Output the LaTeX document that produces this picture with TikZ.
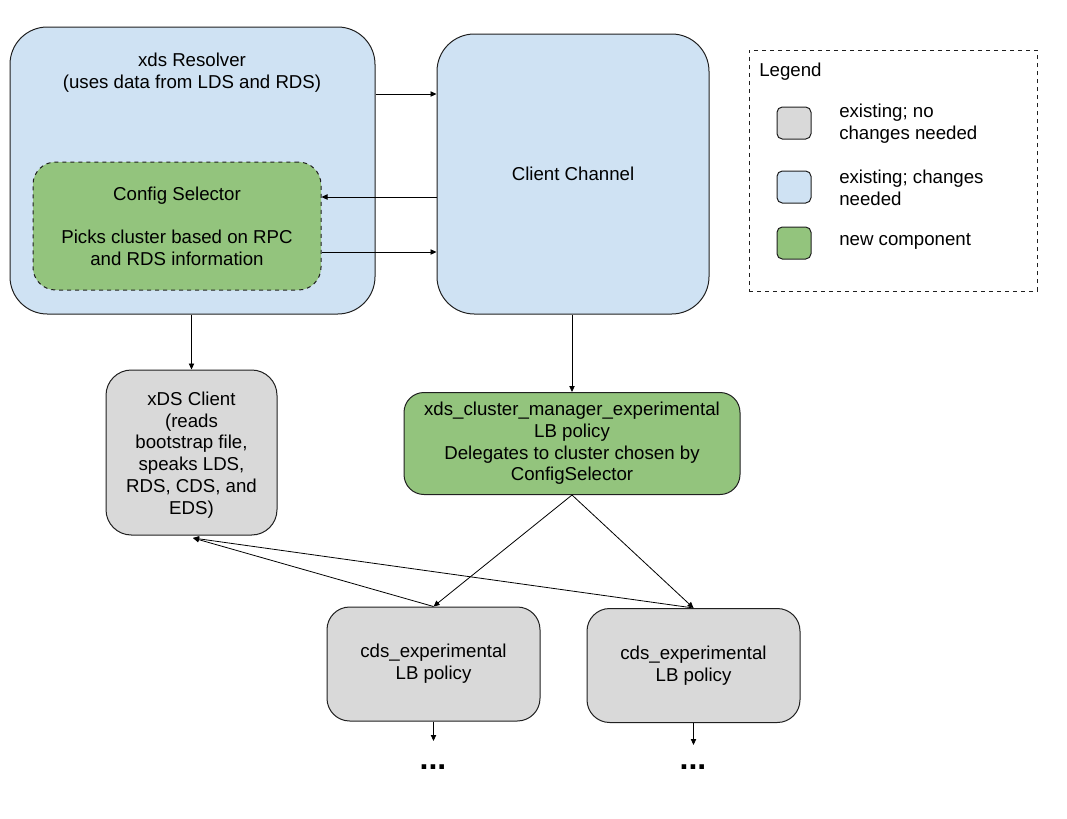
\documentclass[tikz,border=0pt]{standalone}
\usepackage{fontspec}
\setmainfont{Liberation Sans}
\usetikzlibrary{arrows.meta}
\definecolor{cblue}{HTML}{CFE2F3}
\definecolor{cgreen}{HTML}{93C47D}
\definecolor{cgray}{HTML}{D9D9D9}
\definecolor{cline}{HTML}{202020}
\tikzset{
  base/.style={draw=cline, line width=0.75pt, rectangle, inner sep=0pt, align=center,
    font=\fontsize{14}{16.3}\selectfont},
  bluebox/.style={base, fill=cblue},
  greenbox/.style={base, fill=cgreen},
  graybox/.style={base, fill=cgray},
  txt/.style={inner sep=0pt, align=center, font=\fontsize{14}{16.3}\selectfont},
  ltxt/.style={inner sep=0pt, align=left, anchor=west, font=\fontsize{14}{16.3}\selectfont},
  arr/.style={draw=black, line width=0.6pt, -{Triangle[length=4.5pt,width=4pt]}},
  dotsty/.style={inner sep=0pt, font=\fontsize{24}{24}\selectfont\bfseries},
}
\begin{document}
\begin{tikzpicture}[x=0.75pt,y=-0.75pt]
\useasboundingbox (0,0) rectangle (1067,818);

% xds Resolver
\node[bluebox, rounded corners=28pt, minimum width=273.75pt, minimum height=215.25pt] (res) at (192.5,170.5) {};
\node[txt] (restext) at (192,73) {xds Resolver\\(uses data from LDS and RDS)};
\node[greenbox, dashed, rounded corners=17pt, minimum width=216pt, minimum height=96pt] (cs) at (177,226)
  {Config Selector\\ \\Picks cluster based on RPC\\and RDS information};

% Client Channel
\node[bluebox, rounded corners=28pt, minimum width=204pt, minimum height=210pt] (cc) at (573,174) {Client Channel};

% Legend
\node[draw=cline, line width=0.75pt, dashed, rectangle, inner sep=0pt, minimum width=216pt, minimum height=180.75pt] (leg) at (893,170.5) {};
\node[ltxt] (legtitle) at (759,72) {Legend};
\node[graybox, rounded corners=4pt, minimum width=25.5pt, minimum height=24pt] (sw1) at (794,123) {};
\node[bluebox, rounded corners=4pt, minimum width=25.5pt, minimum height=24pt] (sw2) at (794,187) {};
\node[greenbox, rounded corners=4pt, minimum width=25.5pt, minimum height=24pt] (sw3) at (794,243) {};
\node[ltxt] (lt1) at (839,123.5) {existing; no\\changes needed};
\node[ltxt] (lt2) at (839,187.5) {existing; changes\\needed};
\node[ltxt] (lt3) at (839,241) {new component};

% xDS Client
\node[graybox, rounded corners=19pt, minimum width=128.25pt, minimum height=123.75pt] (xc) at (191.5,452.5) {};
\node[txt] (xctext) at (191.5,455) {xDS Client\\(reads\\bootstrap file,\\speaks LDS,\\RDS, CDS, and\\EDS)};

% cluster manager
\node[greenbox, rounded corners=15pt, minimum width=252pt, minimum height=76.5pt] (cm) at (572,443.5)
  {xds\_cluster\_manager\_experimental\\LB policy\\Delegates to cluster chosen by\\ConfigSelector};

% cds policies
\node[graybox, rounded corners=17pt, minimum width=159.75pt, minimum height=85.5pt] (cds1) at (433.5,664) {cds\_experimental\\LB policy};
\node[graybox, rounded corners=17pt, minimum width=159.75pt, minimum height=85.5pt] (cds2) at (693.5,665.5) {cds\_experimental\\LB policy};

\node[dotsty] (dots1) at (433,767) {...};
\node[dotsty] (dots2) at (693,767) {...};

% connectors
\coordinate (ya) at (0,94);
\coordinate (yb) at (0,197);
\coordinate (yc) at (0,252);
\coordinate (e1) at (433.5,741);
\coordinate (e2) at (693.5,745);
\coordinate (xcin) at (193,538);

\draw[arr] (res.east |- ya) -- (cc.west |- ya);
\draw[arr] (cc.west |- yb) -- (cs.east |- yb);
\draw[arr] (cs.east |- yc) -- (cc.west |- yc);
\draw[arr] (xc.north |- res.south) -- (xc.north);
\draw[arr] (cm.north |- cc.south) -- (cm.north);
\draw[arr] (cm.south) -- (cds1.north);
\draw[arr] (cm.south) -- (cds2.north);
\draw[arr] (cds1.north) -- (xcin);
\draw[arr] (cds2.north) -- (xcin);
\draw[arr] (cds1.south) -- (e1);
\draw[arr] (cds2.south) -- (e2);
\end{tikzpicture}
\end{document}
